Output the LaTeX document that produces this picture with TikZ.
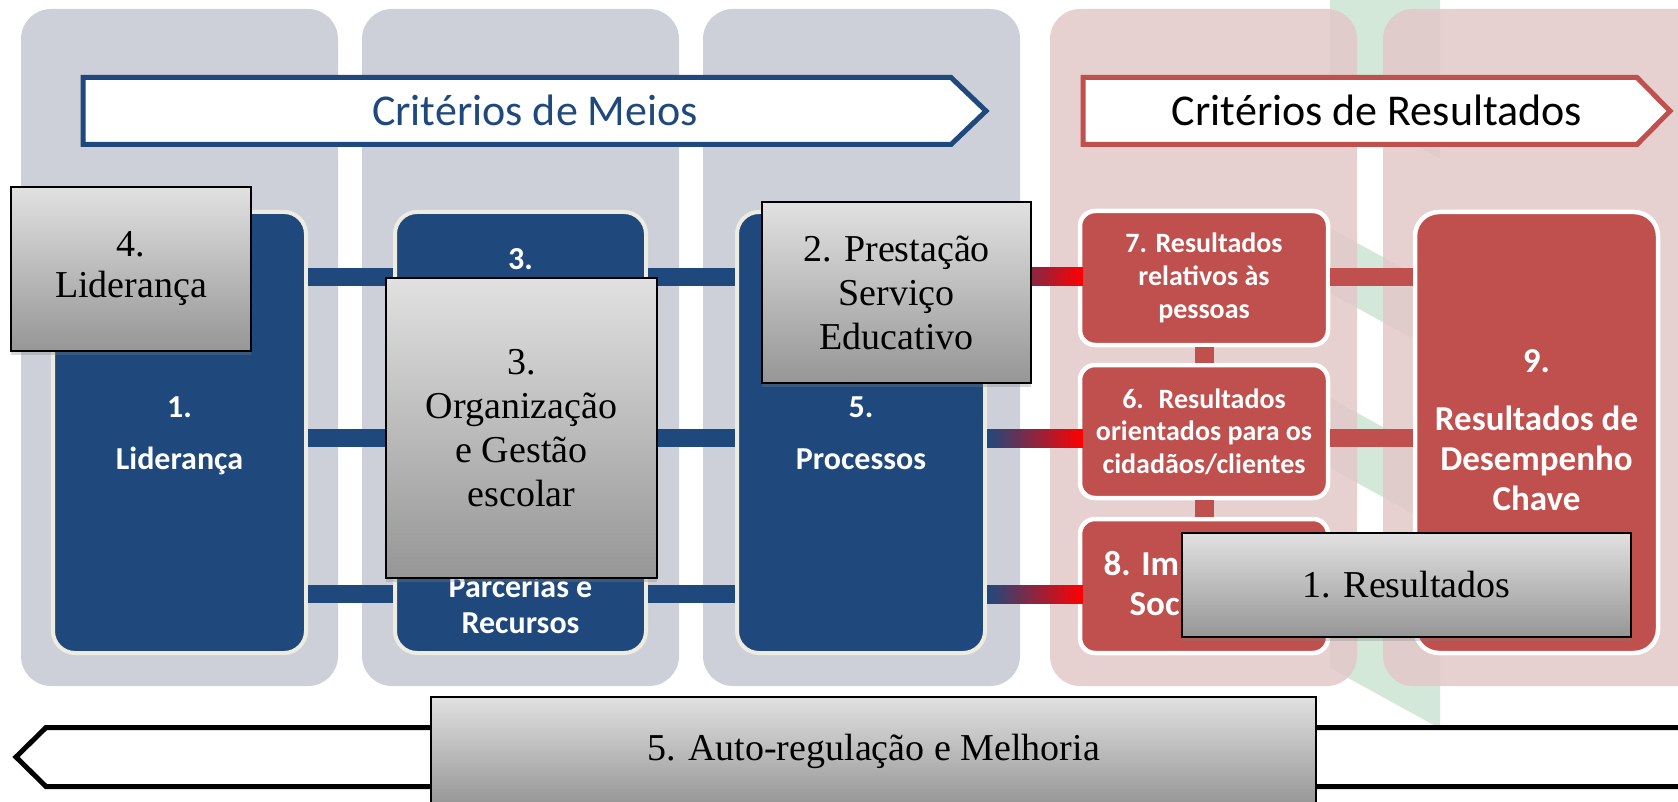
\documentclass[tikz,border=0pt]{standalone}
\usepackage{fontspec}
\newfontfamily\calib{Carlito}
\newfontfamily\serifg{Liberation Serif}
\usetikzlibrary{shadows,calc}
\definecolor{colgray}{HTML}{CDD0D9}
\definecolor{colpink}{HTML}{E3C8C8}
\definecolor{bluec}{HTML}{1F497D}
\definecolor{creamc}{HTML}{EEECE1}
\definecolor{redc}{HTML}{C0504D}
\definecolor{gtop}{HTML}{E1E1E1}
\definecolor{gbot}{HTML}{969696}
\definecolor{wmark}{HTML}{D3E8D9}
\definecolor{purp}{HTML}{800080}
\tikzset{
  col/.style={rounded corners=30pt},
  bluebox/.style={draw=creamc, line width=4pt, fill=bluec, rounded corners=22pt, inner sep=0pt},
  redbox/.style={draw=white, line width=4.5pt, fill=redc, rounded corners=15pt, inner sep=0pt},
  graybox/.style={draw=black, line width=1.2pt, top color=gtop, bottom color=gbot,
    drop shadow={opacity=0.3, shadow xshift=0pt, shadow yshift=-4pt},
    inner sep=0pt, align=center, font=\serifg\fontsize{38}{44}\selectfont},
  bluebar/.style={draw=bluec, line width=18pt},
  redbar/.style={draw=redc, line width=18pt},
  gradbar/.style={left color=bluec, middle color=purp, right color=red},
  btxt/.style={text=white, font=\calib\bfseries\fontsize{32}{38}\selectfont, anchor=base, inner sep=0pt},
  rtxt/.style={text=white, font=\calib\bfseries\fontsize{28}{32}\selectfont, anchor=base, inner sep=0pt},
  r9txt/.style={text=white, font=\calib\bfseries\fontsize{35}{40}\selectfont, anchor=base, inner sep=0pt},
  headtxt/.style={font=\calib\fontsize{44}{50}\selectfont, anchor=base, inner sep=0pt},
  headarrow/.style={line width=5pt, fill=white},
}
\begin{document}
\begin{tikzpicture}[x=1pt,y=-1pt]
\useasboundingbox (0,0) rectangle (1678,802);
\clip (0,0) rectangle (1678,802);
\fill[white] (0,0) rectangle (1678,802);

% faint watermark
\begin{scope}
\clip (1330,0) rectangle (1480,730);
\foreach \a/\b in {-60/120,250/315,420/490,585/690}{
  \fill[wmark] (1300,{\a-38.5}) -- (1440,{\a+38.5}) -- (1440,{\b+38.5}) -- (1300,{\b-38.5}) -- cycle;
}
\end{scope}

% columns
\fill[colgray, col] (21,9) rectangle (338,686);
\fill[colgray, col] (362,9) rectangle (679,686);
\fill[colgray, col] (703,9) rectangle (1020,686);
\fill[colpink, col, opacity=.85] (1050,9) rectangle (1357,686);
\fill[colpink, col, opacity=.85] (1383,9) rectangle (1760,686);

% header arrows
\draw[headarrow, draw=bluec] (83,77.5) -- (951,77.5) -- (986,111) -- (951,144.5) -- (83,144.5) -- cycle;
\node[headtxt, text=bluec] (meios) at (535,126) {Critérios de Meios};
\draw[headarrow, draw=redc] (1083,77.5) -- (1637,77.5) -- (1670,111) -- (1637,144.5) -- (1083,144.5) -- cycle;
\node[headtxt, text=black] (resl) at (1377,126) {Critérios de Resultados};

% rows for connectors
\coordinate (r1) at (0,277);
\coordinate (r2) at (0,438);
\coordinate (r3) at (0,594);

% blue boxes
\node[bluebox, minimum width=253pt, minimum height=441pt] (b1) at (179.5,432.5) {};
\node[bluebox, minimum width=251pt, minimum height=441pt] (b2) at (520.5,432.5) {};
\node[bluebox, minimum width=248pt, minimum height=441pt] (b3) at (861,432.5) {};

% red boxes
\node[redbox, minimum width=248pt, minimum height=134pt] (r7) at (1204,278) {};
\node[redbox, minimum width=248pt, minimum height=133pt] (r6) at (1204,431.5) {};
\node[redbox, minimum width=248pt, minimum height=134pt] (r8) at (1204,586) {};
\node[redbox, rounded corners=24pt, minimum width=243pt, minimum height=441pt] (r9) at (1536.5,432.5) {};

% connectors
\foreach \r in {r1,r2,r3}{
  \draw[bluebar] (b1.east|-\r) -- (b2.west|-\r);
  \draw[bluebar] (b2.east|-\r) -- (b3.west|-\r);
}
\shade[gradbar] ($(b3.east|-r1)+(0,-9)$) rectangle ($(r7.west|-r1)+(5,9)$);
\shade[gradbar] ($(b3.east|-r2)+(0,-9)$) rectangle ($(r6.west|-r2)+(5,9)$);
\shade[gradbar] ($(b3.east|-r3)+(0,-9)$) rectangle ($(r8.west|-r3)+(5,9)$);
\draw[redbar] (r7.east|-r1) -- (r9.west|-r1);
\draw[redbar] (r6.east|-r2) -- (r9.west|-r2);
\draw[redbar, line width=19pt] (r7.south) -- (r6.north);
\draw[redbar, line width=19pt] (r6.south) -- (r8.north);

% blue box texts
\node[btxt] (t1a) at (179.5,417) {1.};
\node[btxt] (t1b) at (179.5,469) {Liderança};
\node[btxt] (t2a) at (520.5,270) {3.};
\node[btxt] (t2b) at (520.5,597) {Parcerias e};
\node[btxt] (t2c) at (520.5,633) {Recursos};
\node[btxt] (t3a) at (861,417) {5.};
\node[btxt] (t3b) at (861,469) {Processos};

% red box texts
\node[rtxt] (t7a) at (1204,253) {7. Resultados};
\node[rtxt] (t7b) at (1204,286) {relativos às};
\node[rtxt] (t7c) at (1204,318) {pessoas};
\node[rtxt] (t6a) at (1204,408) {6.~ Resultados};
\node[rtxt] (t6b) at (1204,440) {orientados para os};
\node[rtxt] (t6c) at (1204,473) {cidadãos/clientes};
\node[r9txt] (t8a) at (1204,575) {8. Impacto na};
\node[r9txt] (t8b) at (1204,615) {Sociedade};
\node[r9txt] (t9a) at (1536.5,372) {9.};
\node[r9txt] (t9b) at (1536.5,430) {Resultados de};
\node[r9txt] (t9c) at (1536.5,470) {Desempenho};
\node[r9txt] (t9d) at (1536.5,510) {Chave};

% gray overlay boxes
\node[graybox, minimum width=240pt, minimum height=164pt] (g4) at (131,269) {4.\\[-3pt]Liderança};
\node[graybox, minimum width=271pt, minimum height=300pt] (g3) at (521.5,428) {3.\\Organização\\e Gestão\\escolar};
\node[graybox, minimum width=269pt, minimum height=181pt] (g2) at (896.5,292.5) {2. Prestação\\Serviço\\Educativo};
\node[graybox, minimum width=449pt, minimum height=104pt] (g1) at (1406.5,585) {1. Resultados};

% bottom arrow
\draw[line width=5pt, draw=black, fill=white] (1760,727.5) -- (46,727.5) -- (16,757) -- (46,786.5) -- (1760,786.5);
\node[graybox, minimum width=885pt, minimum height=108pt] (g5) at (873.5,751) {5. Auto-regulação e Melhoria};
\end{tikzpicture}
\end{document}
